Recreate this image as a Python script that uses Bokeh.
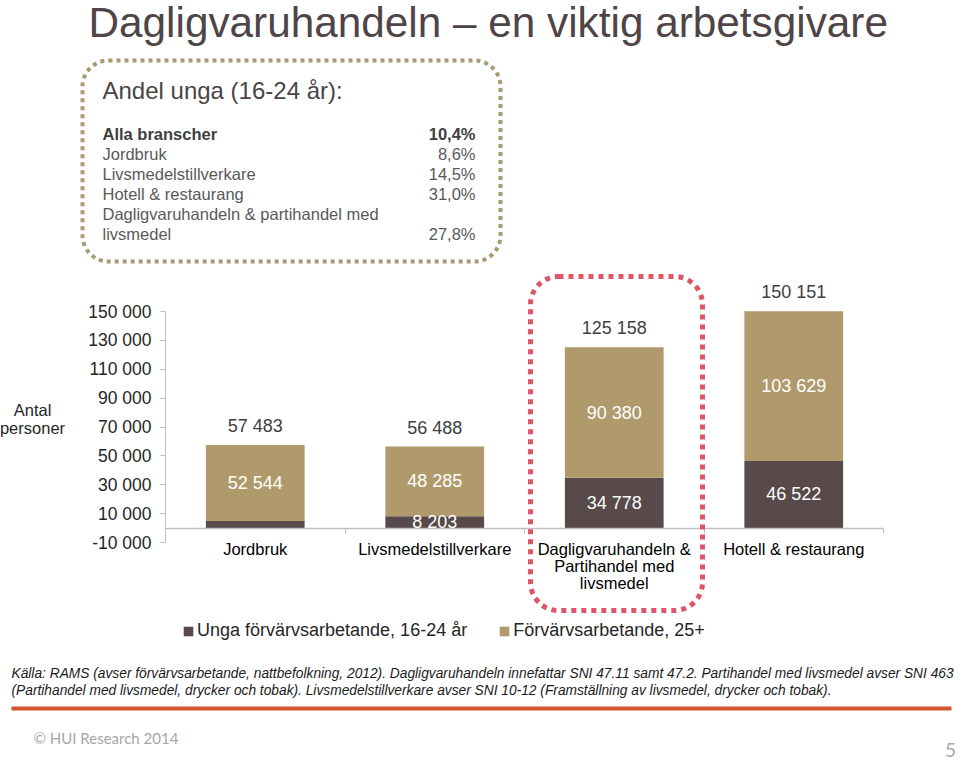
from bokeh.plotting import figure
from bokeh.models import (ColumnDataSource, Range1d, FixedTicker,
                          Label, LabelSet, BoxAnnotation, Legend, LegendItem)
from bokeh.core.properties import value
from bokeh.embed import file_html
from bokeh.resources import INLINE

# ---------------- data ----------------
categories = ["Jordbruk", "Livsmedelstillverkare",
              "Dagligvaruhandeln &\nPartihandel med\nlivsmedel", "Hotell & restaurang"]
unga = [4939, 8203, 34778, 46522]          # Unga förvärvsarbetande, 16-24 år
aldre = [52544, 48285, 90380, 103629]      # Förvärvsarbetande, 25+
totals = [57483, 56488, 125158, 150151]
series_names = ["Unga förvärvsarbetande, 16-24 år", "Förvärvsarbetande, 25+"]
y_ticks = [-10000, 10000, 30000, 50000, 70000, 90000, 110000, 130000, 150000]
y_tick_labels = ["-10 000", "10 000", "30 000", "50 000", "70 000",
                 "90 000", "110 000", "130 000", "150 000"]

share_title = "Andel unga (16-24 år):"
share_rows = ["Alla branscher", "Jordbruk", "Livsmedelstillverkare", "Hotell & restaurang",
              "Dagligvaruhandeln & partihandel med", "livsmedel"]
share_values = ["10,4%", "8,6%", "14,5%", "31,0%", "", "27,8%"]

title_text = "Dagligvaruhandeln – en viktig arbetsgivare"
source_lines = [
    "Källa: RAMS (avser förvärvsarbetande, nattbefolkning, 2012). Dagligvaruhandeln innefattar SNI 47.11 samt 47.2. Partihandel med livsmedel avser SNI 463",
    "(Partihandel med livsmedel, drycker och tobak).  Livsmedelstillverkare avser SNI 10-12 (Framställning av livsmedel, drycker och tobak).",
]
footer_text = "© HUI Research 2014"
page_number = "5"

# ---------------- styles / layout ----------------
DARK = "#58494B"
TAN = "#B09A6C"
FONT = "Liberation Sans"

W, H = 960, 761
PLOT_L, PLOT_R = 165, 883     # canvas px of the chart's category area
PX_BOTTOM, PX_TOP = 542, 311  # canvas px of the -10 000 and 150 000 ticks
n = len(categories)
spacing = (PLOT_R - PLOT_L) / n
x_start = -0.5 - PLOT_L / spacing
x_end = -0.5 + (W - PLOT_L) / spacing
upp = (150000 - (-10000)) / (PX_BOTTOM - PX_TOP)   # value units per px
y_start = -10000 - (H - PX_BOTTOM) * upp
y_end = -10000 + PX_BOTTOM * upp

def fmt(v):
    return f"{v:,}".replace(",", " ")

pos = list(range(n))
src = ColumnDataSource(dict(
    pos=pos,
    unga=unga,
    aldre=aldre,
    total=totals,
    total_text=[fmt(v) for v in totals],
    aldre_mid=[u + a / 2 for u, a in zip(unga, aldre)],
    aldre_text=[fmt(v) for v in aldre],
))
young_idx = [i for i, v in enumerate(unga) if v > 5000]
src_young = ColumnDataSource(dict(
    pos=[pos[i] for i in young_idx],
    mid=[unga[i] / 2 for i in young_idx],
    text=[fmt(unga[i]) for i in young_idx],
))

p = figure(width=W, height=H,
           x_range=Range1d(x_start, x_end),
           y_range=Range1d(y_start, y_end),
           output_backend="svg", toolbar_location=None,
           min_border_left=0, min_border_right=0,
           min_border_top=0, min_border_bottom=0)
p.extra_x_ranges = {"px": Range1d(0, W)}
p.extra_y_ranges = {"px": Range1d(H, 0)}
p.outline_line_color = None
p.xgrid.visible = False
p.ygrid.visible = False
p.background_fill_color = "white"
p.border_fill_color = "white"

# bars
rs = p.vbar_stack(["unga", "aldre"], x="pos", width=0.55, color=[DARK, TAN],
                  line_color=None, source=src)

# y axis, anchored at the left edge of the category area
ya = p.yaxis[0]
ya.fixed_location = -0.5
ya.ticker = FixedTicker(ticks=y_ticks)
ya.major_label_overrides = dict(zip(y_ticks, y_tick_labels))
ya.bounds = (-10000, 150000)
ya.axis_line_color = "#BFBFBF"
ya.major_tick_line_color = "#BFBFBF"
ya.major_tick_out = 5
ya.major_tick_in = 0
ya.minor_tick_line_color = None
ya.major_label_standoff = 9
ya.major_label_text_font = FONT
ya.major_label_text_font_size = "17.5px"
ya.major_label_text_color = "#262626"

# x axis (category labels) on the zero line
xa = p.xaxis[0]
xa.fixed_location = 0
xa.ticker = FixedTicker(ticks=pos, minor_ticks=[i + 0.5 for i in range(-1, n)])
xa.bounds = (-0.5, n - 0.5)
xa.major_label_overrides = dict(zip(pos, categories))
xa.axis_line_color = "#BFBFBF"
xa.axis_line_width = 1.5
xa.major_tick_line_color = None
xa.major_tick_out = 0
xa.major_tick_in = 0
xa.minor_tick_line_color = "#BFBFBF"
xa.minor_tick_out = 5
xa.minor_tick_in = 0
xa.major_label_standoff = 7
xa.major_label_text_font = FONT
xa.major_label_text_font_size = "16.5px"
xa.major_label_text_color = "#000000"
xa.major_label_text_line_height = 0.95

# data labels
p.add_layout(LabelSet(x="pos", y="total", text="total_text", source=src,
                      text_align="center", text_baseline="middle", y_offset=19,
                      text_font=value(FONT), text_font_size="18px", text_color="#404040"))
p.add_layout(LabelSet(x="pos", y="aldre_mid", text="aldre_text", source=src,
                      text_align="center", text_baseline="middle",
                      text_font=value(FONT), text_font_size="18px", text_color="#FFFFFF"))
p.add_layout(LabelSet(x="pos", y="mid", text="text", source=src_young,
                      text_align="center", text_baseline="middle",
                      text_font=value(FONT), text_font_size="18px", text_color="#FFFFFF"))

# legend (location in px from the frame's bottom-left)
legend = Legend(items=[LegendItem(label=series_names[0], renderers=[rs[0]]),
                       LegendItem(label=series_names[1], renderers=[rs[1]])],
                orientation="horizontal", location=(182, 120),
                glyph_width=12, glyph_height=12, label_standoff=3, spacing=31,
                padding=0, margin=0, border_line_color=None, background_fill_alpha=0,
                label_text_font=FONT, label_text_font_size="18px",
                label_text_color="#262626")
p.add_layout(legend)

# ---------------- slide decorations (canvas px via "px" ranges) ----------------
def lab(x, y, text, size, color="#262626", align="left", style="normal", font=FONT, baseline="middle"):
    p.add_layout(Label(x=x, y=y, text=text, x_range_name="px", y_range_name="px",
                       text_font=font, text_font_size=size, text_color=color,
                       text_align=align, text_baseline=baseline, text_font_style=style))

def box(l, r, t, b, **kw):
    p.add_layout(BoxAnnotation(left=l, right=r, top=t, bottom=b,
                               x_range_name="px", y_range_name="px", **kw))

lab(88, 22, title_text, "42.3px", color="#4F4447")

box(82, 500, 60, 261, fill_alpha=0, line_color="#A99A72", line_alpha=1, line_width=4,
    line_dash="4 4", border_radius=26)
lab(102, 90, share_title, "24px", color="#4A4446")
for i, (row, val) in enumerate(zip(share_rows, share_values)):
    y = 133 + 20 * i
    bold = i == 0
    col = "#404040" if bold else "#595959"
    lab(102, y, row, "16.5px", color=col, style="bold" if bold else "normal")
    if val:
        lab(475, y, val, "16.5px", color=col, align="right", style="bold" if bold else "normal")

lab(32, 409, "Antal", "16.5px", align="center")
lab(32, 427, "personer", "16.5px", align="center")

box(530, 702, 276, 610, fill_alpha=0, line_color="#DF5467", line_alpha=1, line_width=5,
    line_dash="5 5", border_radius=28)

lab(11, 673, source_lines[0], "13.75px", color="#1A1A1A", style="italic")
lab(11, 690, source_lines[1], "13.75px", color="#1A1A1A", style="italic")

box(11, 951, 706, 710, fill_color="#D4542E", fill_alpha=1, line_color=None)

lab(33, 737, footer_text, "15px", color="#A6A6A6", font="Lato")
lab(950, 749, page_number, "19px", color="#A6A6A6", align="center", font="Lato")

open("out.html", "w").write(file_html(p, INLINE))
